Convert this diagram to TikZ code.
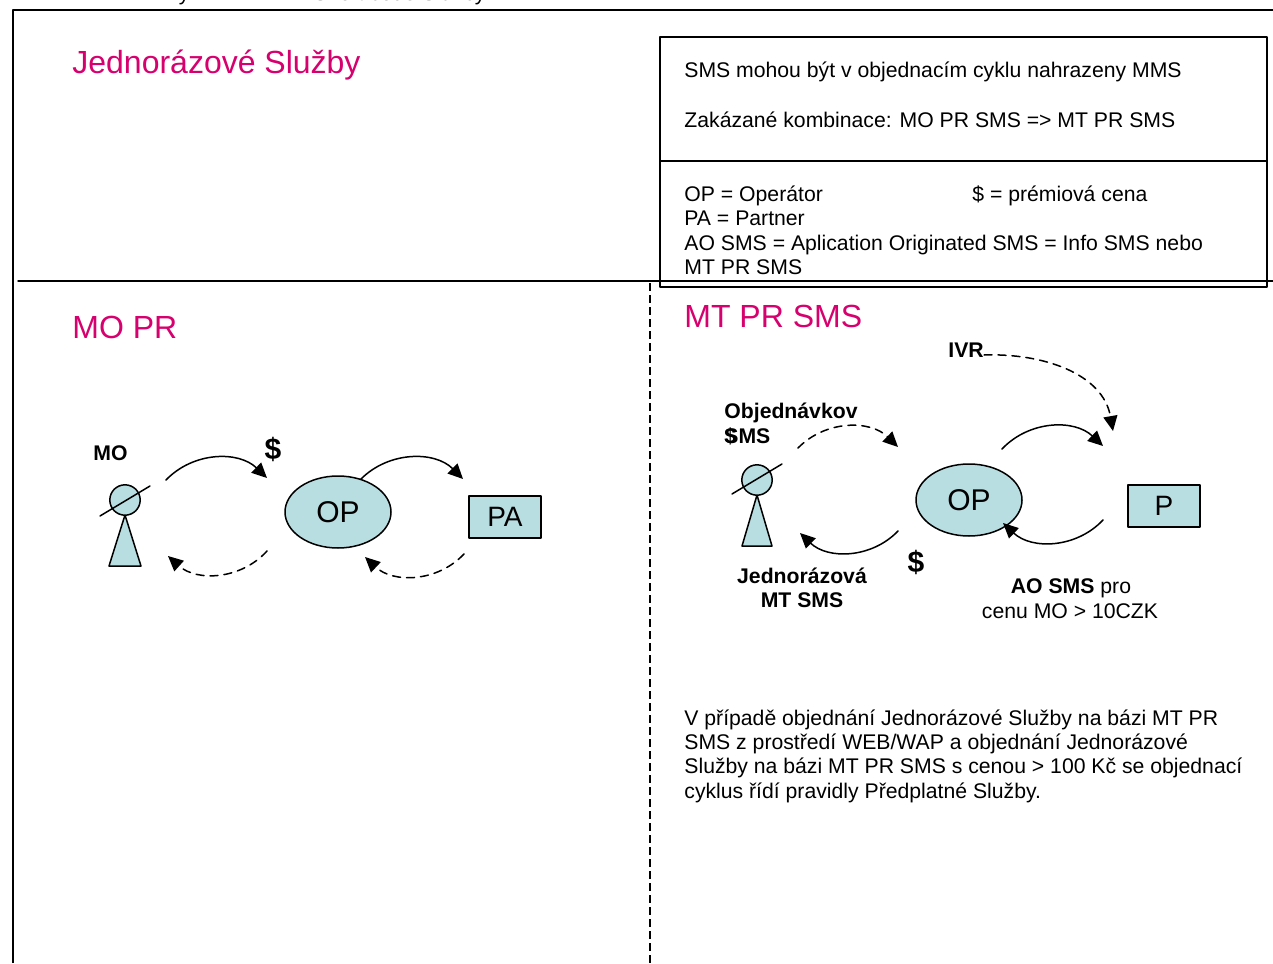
\documentclass[tikz,border=0pt]{standalone}
\usepackage{fontspec}
\setmainfont{Liberation Sans}
\usetikzlibrary{arrows.meta,shapes.geometric}
\definecolor{tmagenta}{RGB}{214,0,110}
\definecolor{figfill}{RGB}{184,222,226}
\tikzset{
    body/.style={font=\fontsize{10.6}{12.2}\selectfont,anchor=base west,inner sep=0pt},
    heading/.style={font=\fontsize{16}{19}\selectfont,color=tmagenta,anchor=base west,inner sep=0pt},
    tag/.style={font=\fontsize{10.6}{12.2}\selectfont\bfseries,inner sep=0pt},
    price/.style={font=\fontsize{15}{18}\selectfont\bfseries,inner sep=0pt},
    opnode/.style={ellipse,draw,line width=0.75pt,fill=figfill,minimum width=53pt,minimum height=36pt,inner sep=0pt,font=\fontsize{15}{18}\selectfont},
    panode/.style={rectangle,draw,line width=0.9pt,fill=figfill,minimum width=36pt,minimum height=21pt,inner sep=0pt,font=\fontsize{14}{17}\selectfont},
    flow/.style={->,line width=0.75pt},
    reply/.style={->,line width=0.75pt,dash pattern=on 4pt off 3pt}
}
\begin{document}
\begin{tikzpicture}[line cap=round,line join=round,>={Triangle[length=7.5pt,width=7pt]},x=0.5pt,y=-0.5pt]
    \useasboundingbox (0,0) rectangle (1273,963);
    % page header, cut off at the top
    \node[body] (hdr1) at (155,1) {Zxy};
    \node[body] (hdr2) at (313,1) {Short code Služby};
    % frame
    \draw[line width=1pt,line cap=butt] (13,963) -- (13,10) -- (1273,10);
    \draw[line width=0.75pt] (18,281) -- (1273,281);
    \draw[line width=0.6pt,line cap=butt,dash pattern=on 4pt off 2pt] (650,283) -- (650,963);
    \node[heading] (title) at (72,74) {Jednorázové Služby};
    % notes box
    \draw[line width=0.75pt] (660,37) rectangle (1267,287);
    \draw[line width=0.75pt] (660,161) -- (1267,161);
    \node[body] (note1) at (684,78) {SMS mohou být v objednacím cyklu nahrazeny MMS};
    \node[body] (note2) at (684,127) {Zakázané kombinace: MO PR SMS => MT PR SMS};
    \node[body] (key1) at (684,201) {OP = Operátor};
    \node[body] (key2) at (972,201) {\$ = prémiová cena};
    \node[body] (key3) at (684,225) {PA = Partner};
    \node[body] (key4) at (684,250) {AO SMS = Aplication Originated SMS = Info SMS nebo};
    \node[body] (key5) at (684,274) {MT PR SMS};

    % MO PR
    \node[heading] (mopr) at (72,338) {MO PR};
    \node[tag,anchor=base west] (mo) at (93,460) {MO};
    \draw[line width=0.75pt,fill=figfill] (125,515) -- (109,566) -- (141,566) -- cycle;
    \draw[line width=0.75pt,fill=figfill] (125,500) circle (7.6pt);
    \draw[line width=0.75pt] (100,516) -- (150,486);
    \node[opnode] (op1) at (338,512) {OP};
    \node[panode] (pa) at (505,517) {PA};
    \node[price] (cost1) at (273,449) {\$};
    \coordinate (mo-out) at (166,480);
    \coordinate (op1-in) at (267,478);
    \coordinate (op1-out) at (361,479);
    \coordinate (pa-in) at (463,479);
    \coordinate (op1-back) at (267,551);
    \coordinate (mo-in) at (168,556);
    \coordinate (pa-back) at (464,554);
    \coordinate (op1-ret) at (365,557);
    \draw[flow] (mo-out) to[bend left=45] (op1-in);
    \draw[flow] (op1-out) to[bend left=45] (pa-in);
    \draw[reply] (op1-back) to[bend left=45] (mo-in);
    \draw[reply] (pa-back) to[bend left=45] (op1-ret);

    % MT PR SMS
    \node[heading] (mtpr) at (684,327) {MT PR SMS};
    \node[tag,anchor=base west] (ivr) at (948,357) {IVR};
    \node[tag,anchor=base west] (order1) at (724,418) {Objednávkov};
    \node[tag,anchor=base west] (order2) at (724,443) {SMS};
    \node[tag,anchor=base west] (order3) at (724,443) {\$};
    \draw[line width=0.75pt,fill=figfill] (757,495) -- (742,546) -- (772,546) -- cycle;
    \draw[line width=0.75pt,fill=figfill] (757,480) circle (7.6pt);
    \draw[line width=0.75pt] (732,494) -- (782,464);
    \node[opnode] (op2) at (969,500) {OP};
    \node[panode] (p) at (1164,506) {P};
    \node[price] (cost2) at (916,562) {\$};
    \node[tag,anchor=base] (once1) at (802,583) {Jednorázová};
    \node[tag,anchor=base] (once2) at (802,607) {MT SMS};
    \node[body,anchor=base] (ao1) at (1071,593) {\textbf{AO SMS} pro};
    \node[body,anchor=base] (ao2) at (1070,618) {cenu MO > 10CZK};
    \coordinate (ivr-out) at (984,355);
    \coordinate (p-ivr) at (1113,431);
    \coordinate (mt-out) at (798,448);
    \coordinate (op2-in) at (898,447);
    \coordinate (op2-out) at (1002,449);
    \coordinate (p-in) at (1103,446);
    \coordinate (p-out) at (1103,520);
    \coordinate (op2-ret) at (1003,523);
    \coordinate (op2-back) at (898,531);
    \coordinate (mt-in) at (800,533);
    \draw[reply] (ivr-out) to[out=2,in=100] (p-ivr);
    \draw[reply] (mt-out) to[bend left=45] (op2-in);
    \draw[flow] (op2-out) to[bend left=45] (p-in);
    \draw[flow] (p-out) to[bend left=45] (op2-ret);
    \draw[flow] (op2-back) to[bend left=45] (mt-in);
    \foreach \txt [count=\i from 0] in {{V případě objednání Jednorázové Služby na bázi MT PR},{SMS z prostředí WEB/WAP a objednání Jednorázové},{Služby na bázi MT PR SMS s cenou > 100 Kč se objednací},{cyklus řídí pravidly Předplatné Služby.}}
    \node[body] (rule\i) at (684,725+24.4*\i) {\txt};
\end{tikzpicture}
\end{document}
